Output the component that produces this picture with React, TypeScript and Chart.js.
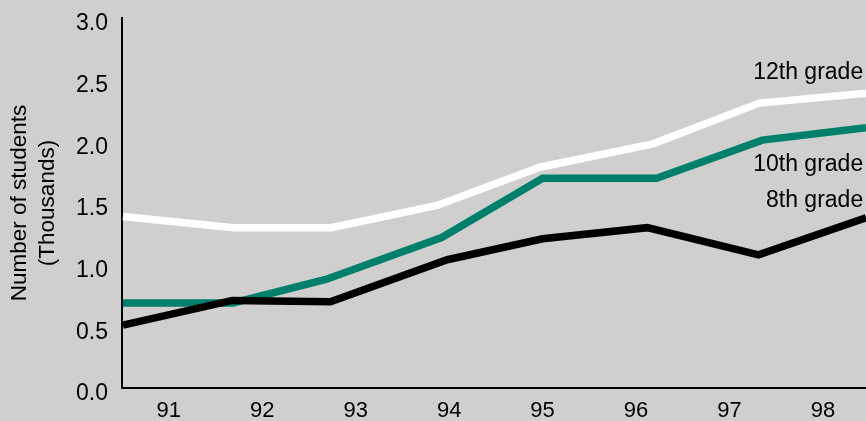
import React, { useEffect, useRef } from "react";
import { Chart, registerables } from "chart.js";

Chart.register(...registerables);

// Data (x in school-year units, y in thousands of students)
const yearTicks = [91, 92, 93, 94, 95, 96, 97, 98];
const yearTickLabels = ["91", "92", "93", "94", "95", "96", "97", "98"];
const yTickValues = [0, 0.5, 1.0, 1.5, 2.0, 2.5, 3.0];

const grade12X = [90.51, 91.69, 92.74, 93.87, 94.97, 96.18, 97.32, 98.46];
const grade12Y = [1.39, 1.3, 1.3, 1.48, 1.79, 1.98, 2.31, 2.39];

const grade10X = [90.51, 91.69, 92.68, 93.92, 95.0, 96.22, 97.35, 98.46];
const grade10Y = [0.69, 0.69, 0.88, 1.22, 1.7, 1.7, 2.01, 2.11];

const grade8X = [90.51, 91.68, 92.73, 93.98, 95.0, 96.12, 97.31, 98.46];
const grade8Y = [0.51, 0.71, 0.7, 1.04, 1.21, 1.3, 1.08, 1.38];

const seriesNames = ["8th grade", "10th grade", "12th grade"];
const seriesColors = ["#000000", "#00806a", "#ffffff"];
// label anchor positions in data units (right-aligned text)
const labelX = [98.43, 98.43, 98.43];
const labelY = [1.52, 1.81, 2.56];

const FONT = "'Liberation Sans', Arial, sans-serif";

const toPoints = (xs: number[], ys: number[]) => xs.map((x, i) => ({ x, y: ys[i] }));

export default function App() {
  const ref = useRef<HTMLCanvasElement | null>(null);

  useEffect(() => {
    const canvas = ref.current;
    if (!canvas) return;

    const bgPlugin = {
      id: "bg",
      beforeDraw(chart: any) {
        const { ctx, width, height } = chart;
        ctx.save();
        ctx.fillStyle = "#cfcfcf";
        ctx.fillRect(0, 0, width, height);
        ctx.restore();
      },
    };

    const labelPlugin = {
      id: "seriesLabels",
      afterDatasetsDraw(chart: any) {
        const { ctx } = chart;
        const xs = chart.scales.x;
        const ys = chart.scales.y;
        ctx.save();
        ctx.font = `23px ${FONT}`;
        ctx.fillStyle = "#000";
        ctx.textAlign = "right";
        ctx.textBaseline = "middle";
        seriesNames.forEach((name, i) => {
          ctx.fillText(name, xs.getPixelForValue(labelX[i]), ys.getPixelForValue(labelY[i]));
        });
        ctx.restore();
      },
    };

    const chart = new Chart(canvas, {
      type: "line",
      data: {
        datasets: [
          { label: seriesNames[0], data: toPoints(grade8X, grade8Y) },
          { label: seriesNames[1], data: toPoints(grade10X, grade10Y) },
          { label: seriesNames[2], data: toPoints(grade12X, grade12Y) },
        ].map((d, i) => ({
          ...d,
          borderColor: seriesColors[i],
          backgroundColor: seriesColors[i],
          borderWidth: 7.5,
          pointRadius: 0,
          pointHoverRadius: 0,
          tension: 0,
          fill: false,
          borderJoinStyle: "miter" as const,
          borderCapStyle: "butt" as const,
        })),
      },
      options: {
        animation: false,
        responsive: false,
        maintainAspectRatio: false,
        layout: { padding: { top: 18, right: 0, left: 0, bottom: 0 } },
        plugins: {
          legend: { display: false },
          tooltip: { enabled: false },
        },
        scales: {
          x: {
            type: "linear",
            min: 90.5,
            max: 98.46,
            grid: { display: false, drawTicks: false },
            border: { display: true, color: "#000", width: 2 },
            afterBuildTicks(scale: any) {
              scale.ticks = yearTicks.map((v) => ({ value: v }));
            },
            afterFit(scale: any) {
              scale.height = 33;
              scale.paddingLeft = 0;
              scale.paddingRight = 0;
            },
            ticks: {
              padding: 10,
              color: "#000",
              font: { family: FONT, size: 22 },
              maxRotation: 0,
              autoSkip: false,
              callback: (v: any) => {
                const idx = yearTicks.indexOf(Number(v));
                return idx >= 0 ? yearTickLabels[idx] : "";
              },
            },
          },
          y: {
            type: "linear",
            min: 0,
            max: 3,
            grid: { display: false, drawTicks: false },
            border: { display: true, color: "#000", width: 2 },
            afterBuildTicks(scale: any) {
              scale.ticks = yTickValues.map((v) => ({ value: v }));
            },
            afterFit(scale: any) {
              scale.width = 122;
              scale.paddingTop = 0;
              scale.paddingBottom = 0;
            },
            ticks: {
              padding: 14,
              labelOffset: 6,
              color: "#000",
              font: { family: FONT, size: 23 },
              callback: (v: any) => Number(v).toFixed(1),
            },
            title: {
              display: true,
              text: ["Number of students", "(Thousands)"],
              color: "#000",
              font: { family: FONT, size: 22.5, lineHeight: 1.25 },
              padding: { top: 6, bottom: 0 },
            },
          },
        },
      },
      plugins: [bgPlugin, labelPlugin],
    });

    return () => chart.destroy();
  }, []);

  return (
    <div style={{ position: "fixed", left: 0, top: 0, width: 866, height: 421 }}>
      <canvas ref={ref} width={866} height={421} style={{ width: 866, height: 421, display: "block" }} />
    </div>
  );
}
